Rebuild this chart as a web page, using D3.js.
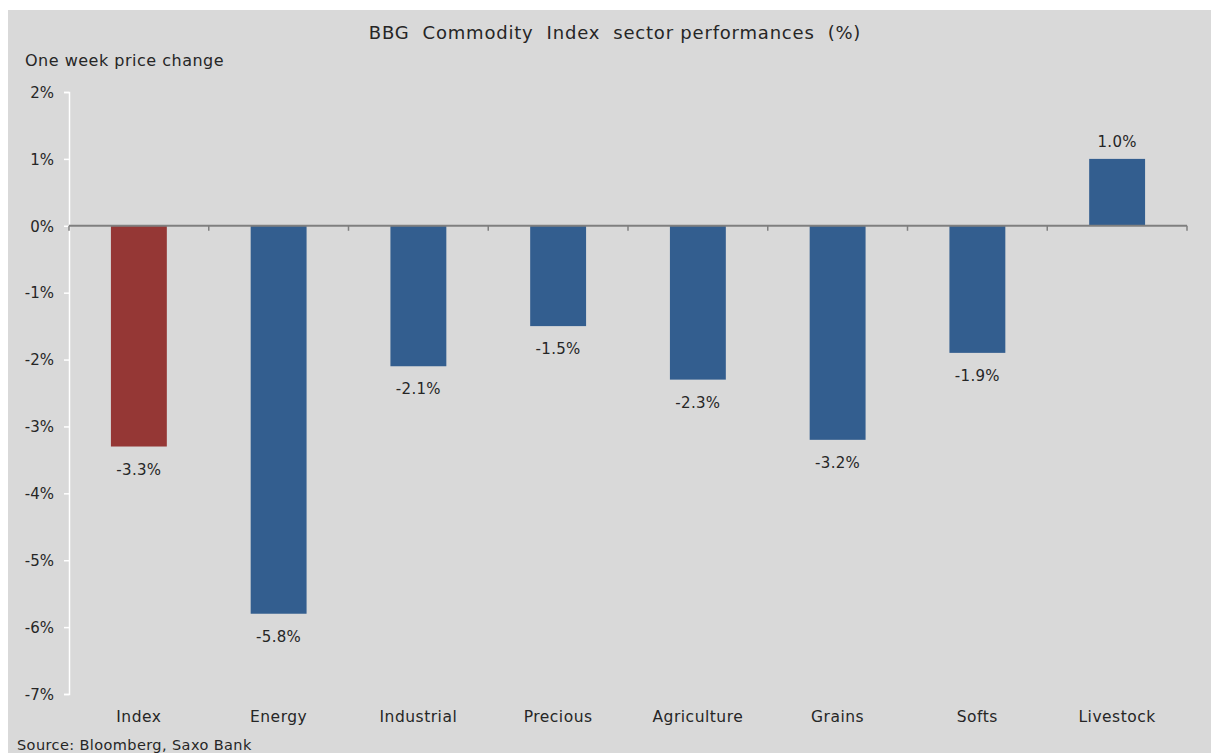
<!DOCTYPE html>
<html>
<head>
<meta charset="utf-8">
<script src="https://cdn.jsdelivr.net/npm/d3@7"></script>
<style>
  body { margin: 0; background: #fff; }
  svg text { font-family: "DejaVu Sans", Verdana, sans-serif; fill: #262626; }
</style>
</head>
<body>
<svg id="chart" width="1211" height="753"></svg>
<script>
var categories = ['Index', 'Energy', 'Industrial', 'Precious', 'Agriculture', 'Grains', 'Softs', 'Livestock'];
var values = [-3.3, -5.8, -2.1, -1.5, -2.3, -3.2, -1.9, 1.0];
var yTicks = [2, 1, 0, -1, -2, -3, -4, -5, -6, -7];

var svg = d3.select('#chart');

// grey panel
svg.append('rect')
    .attr('x', 8).attr('y', 10)
    .attr('width', 1211 - 8).attr('height', 753 - 10)
    .attr('fill', '#d9d9d9');

var x = d3.scaleBand()
    .domain(categories)
    .range([69, 1187])
    .paddingInner(0.6)
    .paddingOuter(0.3);

var y = d3.scaleLinear()
    .domain([-7, 2])
    .range([694, 92]);

// y axis (white line, white ticks)
var yAxis = svg.append('g')
    .attr('transform', 'translate(69,0)')
    .call(d3.axisLeft(y).tickValues(yTicks).tickSize(5).tickFormat(function(d) { return d + '%'; }));
yAxis.select('.domain').attr('stroke', '#fff').attr('stroke-width', 1.5);
yAxis.selectAll('.tick line').attr('stroke', '#fff').attr('stroke-width', 1.5);
yAxis.selectAll('.tick text')
    .attr('x', -15)
    .attr('dy', '0.35em')
    .style('font-size', '15px')
    .style('font-family', '"DejaVu Sans", Verdana, sans-serif')
    .style('fill', '#262626');

// bars
svg.selectAll('rect.bar')
    .data(values)
  .enter().append('rect')
    .attr('class', 'bar')
    .attr('x', function(d, i) { return x(categories[i]); })
    .attr('width', x.bandwidth())
    .attr('y', function(d) { return y(Math.max(0, d)); })
    .attr('height', function(d) { return Math.abs(y(d) - y(0)); })
    .attr('fill', function(d, i) { return i === 0 ? '#953735' : '#335e8f'; });

// value labels
svg.selectAll('text.val')
    .data(values)
  .enter().append('text')
    .attr('class', 'val')
    .attr('x', function(d, i) { return x(categories[i]) + x.bandwidth() / 2; })
    .attr('y', function(d) { return d < 0 ? y(d) + 28 : y(d) - 12; })
    .attr('text-anchor', 'middle')
    .style('font-size', '15px')
    .style('letter-spacing', '0.3px')
    .text(function(d) { return d.toFixed(1) + '%'; });

// x axis at zero
var step = x.step();
var xTicks = d3.range(categories.length + 1).map(function(i) { return 69 + i * step; });
svg.append('line')
    .attr('x1', 69).attr('x2', 1187)
    .attr('y1', y(0)).attr('y2', y(0))
    .attr('stroke', '#7f7f7f').attr('stroke-width', 2);
svg.selectAll('line.xt')
    .data(xTicks)
  .enter().append('line')
    .attr('class', 'xt')
    .attr('x1', function(d) { return d; }).attr('x2', function(d) { return d; })
    .attr('y1', y(0)).attr('y2', y(0) + 5)
    .attr('stroke', '#7f7f7f').attr('stroke-width', 1.5);

// category labels
svg.selectAll('text.cat')
    .data(categories)
  .enter().append('text')
    .attr('class', 'cat')
    .attr('x', function(d) { return x(d) + x.bandwidth() / 2; })
    .attr('y', 722)
    .attr('text-anchor', 'middle')
    .style('font-size', '15.5px')
    .style('letter-spacing', '0.5px')
    .text(function(d) { return d; });

svg.append('text')
    .attr('x', 615).attr('y', 39)
    .attr('text-anchor', 'middle')
    .style('font-size', '18px')
    .style('letter-spacing', '0.8px')
    .attr('xml:space', 'preserve')
    .text('BBG  Commodity  Index  sector performances  (%)');

svg.append('text')
    .attr('x', 25).attr('y', 66)
    .style('font-size', '16px')
    .style('letter-spacing', '0.5px')
    .text('One week price change');

svg.append('text')
    .attr('x', 17).attr('y', 750)
    .style('font-size', '14.5px')
    .style('letter-spacing', '0.4px')
    .text('Source: Bloomberg, Saxo Bank');
</script>
</body>
</html>
